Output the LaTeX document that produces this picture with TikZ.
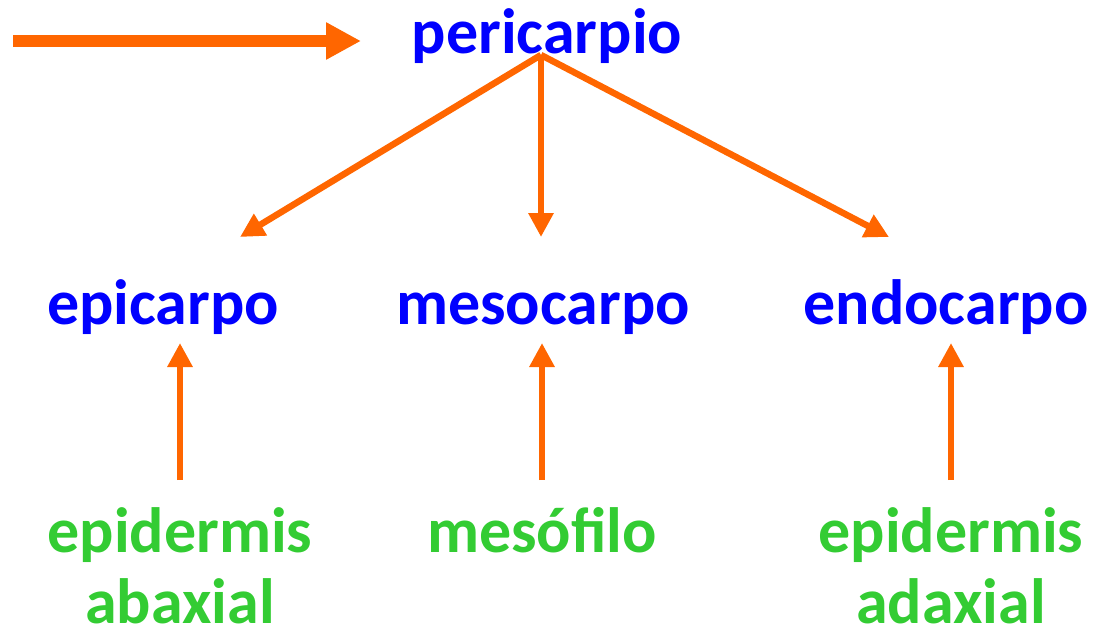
\documentclass[tikz,border=0pt]{standalone}
\usepackage{fontspec}
\setmainfont{Carlito}
\usetikzlibrary{arrows.meta}
\definecolor{blu}{RGB}{0,0,255}
\definecolor{grn}{RGB}{51,204,51}
\definecolor{org}{RGB}{255,102,0}
\begin{document}
\begin{tikzpicture}[x=1pt,y=-1pt,
  lbl/.style={font=\fontsize{64}{68}\selectfont\bfseries, inner sep=0pt, anchor=base},
  blab/.style={lbl, text=blu},
  glab/.style={lbl, text=grn, align=center},
  arr/.style={draw=org, line width=6.5pt, -{Triangle[length=24pt,width=24pt]}},
  bigarr/.style={draw=org, line width=12pt, -{Triangle[length=35pt,width=35pt]}}]
\useasboundingbox (0,0) rectangle (1099,637);
\node[blab] (peri) at (547,53) {pericarpio};
\node[blab] (epi) at (163,324) {epicarpo};
\node[blab] (meso) at (543,324) {mesocarpo};
\node[blab] (endo) at (946,324) {endocarpo};
\node[glab] (epab1) at (180,552) {epidermis};
\node[glab] (epab2) at (180,623) {abaxial};
\node[glab] (mesof) at (542,552) {mesófilo};
\node[glab] (epad1) at (951,552) {epidermis};
\node[glab] (epad2) at (951,623) {adaxial};
\coordinate (start) at (13,41);
\coordinate (pend) at (361,41);
\coordinate (top) at (541,55);
\coordinate (e1) at (240,237);
\coordinate (e2) at (541,237);
\coordinate (e3) at (889,237);
\coordinate (u1s) at (180,480);
\coordinate (u1e) at (180,343);
\coordinate (u2s) at (542,480);
\coordinate (u2e) at (542,343);
\coordinate (u3s) at (951,480);
\coordinate (u3e) at (951,343);
\draw[bigarr] (start) -- (pend);
\draw[arr] (top) -- (e1);
\draw[arr] (top) -- (e2);
\draw[arr] (top) -- (e3);
\draw[arr] (u1s) -- (u1e);
\draw[arr] (u2s) -- (u2e);
\draw[arr] (u3s) -- (u3e);
\end{tikzpicture}
\end{document}
